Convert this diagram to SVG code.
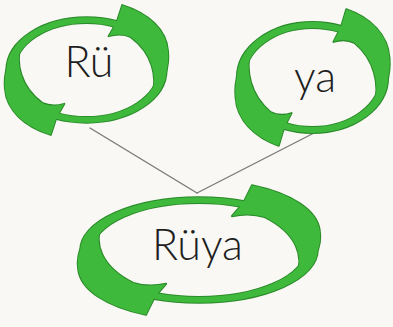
<svg xmlns="http://www.w3.org/2000/svg" xmlns:xlink="http://www.w3.org/1999/xlink" width="393" height="327" viewBox="0 0 393 327">
  <style>
    .shape path { vector-effect: non-scaling-stroke; }
    .edge { fill: #2a8a2a; stroke: #2a8a2a; stroke-width: 2; stroke-linejoin: round; }
    .body { fill: #3fb93b; stroke: none; }
    .lbl { font-family: Lato, "Liberation Sans", "DejaVu Sans", sans-serif; font-weight: 300; font-size: 43px; fill: #1e1e1e; text-anchor: middle; }
    .conn { stroke: #7a7a7a; stroke-width: 1.4; fill: none; stroke-linecap: round; }
  </style>
  <defs>
    <path id="head" d="M50,-138 C86,-121 112,-86 114,-40 C116,-8 110,25 92,55 C99,15 93,-35 62,-70 C52,-77 42,-77 31,-72 L42,-101 Z"/>
    <g id="cyc" class="shape">
      <path fill-rule="evenodd" d="M-112,0 A112,112 0 1,0 112,0 A112,112 0 1,0 -112,0 Z M-100,0 A100,100 0 1,0 100,0 A100,100 0 1,0 -100,0 Z"/>
      <path d="M50,-138 C86,-121 112,-86 114,-40 C116,-8 110,25 92,55 C99,15 93,-35 62,-70 C52,-77 42,-77 31,-72 L42,-101 Z"/>
      <path transform="rotate(180)" d="M50,-138 C86,-121 112,-86 114,-40 C116,-8 110,25 92,55 C99,15 93,-35 62,-70 C52,-77 42,-77 31,-72 L42,-101 Z"/>
    </g>
  </defs>
  <rect x="0" y="0" width="393" height="327" fill="#f9f8f4"/>
  <g id="connectors">
    <line class="conn" x1="90" y1="128" x2="197" y2="193"/>
    <line class="conn" x1="314" y1="133" x2="197" y2="193"/>
  </g>
  <g id="node-ru">
    <use xlink:href="#cyc" class="edge" transform="translate(86.5,70) scale(0.715,0.47)"/>
    <use xlink:href="#cyc" class="body" transform="translate(86.5,70) scale(0.715,0.47)"/>
    <text class="lbl" x="89" y="77">Rü</text>
  </g>
  <g id="node-ya">
    <use xlink:href="#cyc" class="edge" transform="translate(312.5,77.5) scale(0.675,0.495)"/>
    <use xlink:href="#cyc" class="body" transform="translate(312.5,77.5) scale(0.675,0.495)"/>
    <text class="lbl" x="315" y="92">ya</text>
  </g>
  <g id="node-ruya">
    <use xlink:href="#cyc" class="edge" transform="translate(199,250) scale(1.06,0.47)"/>
    <use xlink:href="#cyc" class="body" transform="translate(199,250) scale(1.06,0.47)"/>
    <text class="lbl" x="197.5" y="260">Rüya</text>
  </g>
</svg>
